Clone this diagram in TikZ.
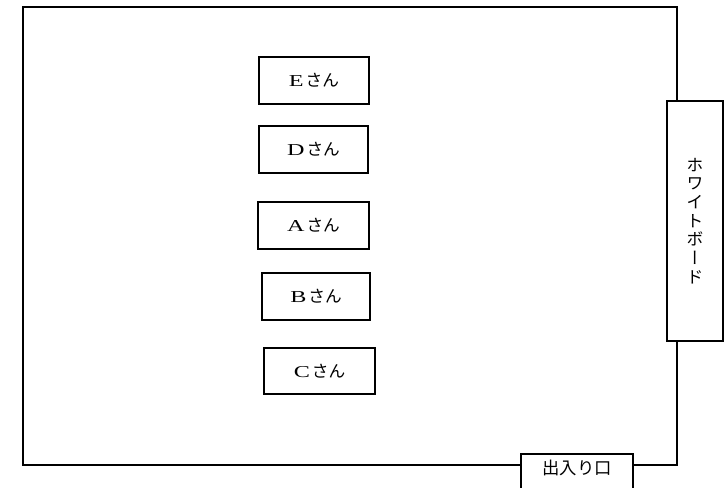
\documentclass[tikz,border=0pt]{standalone}
\usepackage{fontspec}
\usepackage{graphicx}
\setmainfont{Liberation Serif}
\newfontfamily\cjk{Noto Sans CJK JP}
\newfontfamily\cjkv[RawFeature={+vert}]{Noto Sans CJK JP}
\newcommand{\wideL}[1]{\scalebox{1.45}[1]{#1}\hspace{1.5pt}}
\begin{document}
\begin{tikzpicture}[x=0.75pt,y=-0.75pt,
  wall/.style={line width=1.2pt,line join=miter},
  person/.style={draw,line width=1.2pt,minimum width=82pt,minimum height=35pt,inner sep=0pt,font=\fontsize{12.5pt}{14pt}\selectfont},
  board/.style={draw,line width=1.2pt,minimum width=42pt,minimum height=180pt,inner sep=0pt,align=center,font=\fontsize{12.8pt}{14pt}\cjkv},
  door/.style={line width=1.2pt}]
\useasboundingbox (0,0) rectangle (728,488);
\fill[white] (0,0) rectangle (728,488);
% room walls
\coordinate (tr) at (677,7);
\coordinate (tl) at (23,7);
\coordinate (bl) at (23,465);
\coordinate (br) at (677,465);
\node[board] (wb) at (695,221) {ホ\\ワ\\イ\\ト\\ボ\\ー\\ド};
\draw[wall] (wb.north -| tr) -- (tr) -- (tl) -- (bl) -- (521,465);
\draw[wall] (633,465) -- (br) -- (wb.south -| br);
% door
\draw[door] (521,490) -- (521,454) -- (633,454) -- (633,490);
\node[font=\fontsize{13pt}{14pt}\cjk,inner sep=0pt] (exit) at (577,468) {出入り口};
% persons
\node[person,minimum width=82.5pt] (E) at (314,80.5) {\wideL{E}{\cjk さん}};
\node[person,minimum width=82pt] (D) at (313.5,149.5) {\wideL{D}{\cjk さん}};
\node[person,minimum width=83pt] (A) at (313.5,225.5) {\wideL{A}{\cjk さん}};
\node[person,minimum width=81pt] (B) at (316,296.5) {\wideL{B}{\cjk さん}};
\node[person,minimum width=83pt,minimum height=34.5pt] (C) at (319.5,371) {\wideL{C}{\cjk さん}};
\end{tikzpicture}
\end{document}
